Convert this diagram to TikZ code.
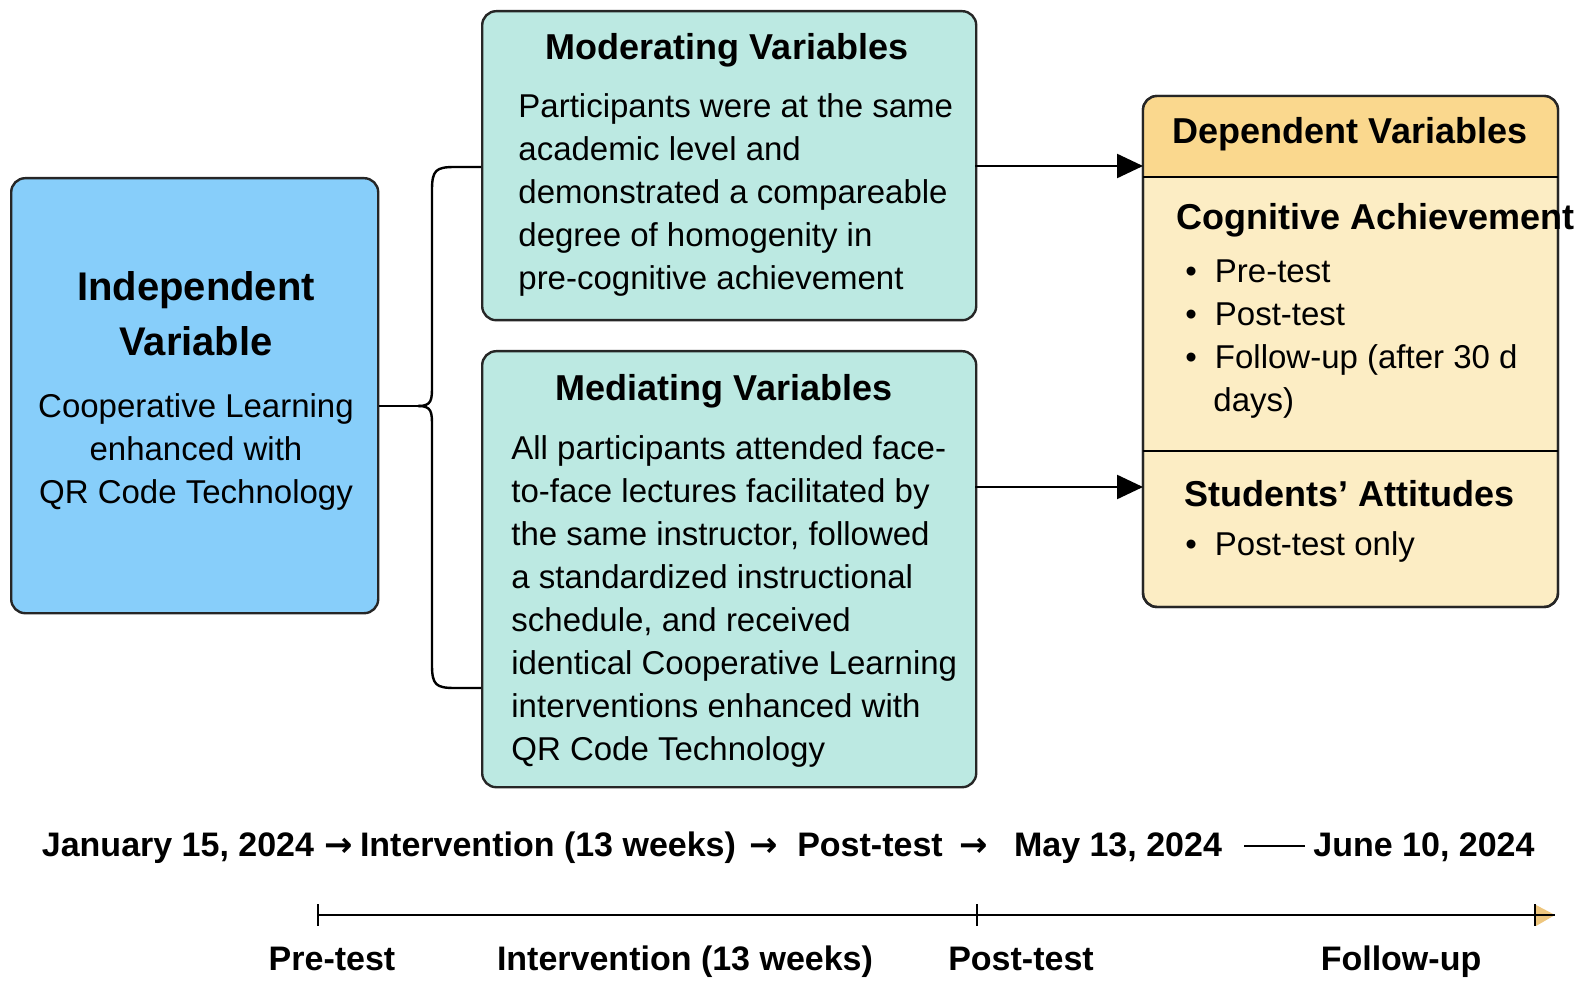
\documentclass[tikz,border=0pt]{standalone}
\usepackage{fontspec}
\setmainfont{Liberation Sans}
\newfontfamily\djv{DejaVu Sans}
\usetikzlibrary{arrows.meta,calc}
\definecolor{ivblue}{HTML}{87CEFA}
\definecolor{tealbg}{HTML}{BCE9E2}
\definecolor{dvhead}{HTML}{FAD88E}
\definecolor{dvbody}{HTML}{FCEDC4}
\tikzset{
 box/.style={draw=black!85,line width=1.2pt,rounded corners=7pt},
 ttl/.style={font=\fontsize{18}{21}\selectfont\bfseries},
 body/.style={font=\fontsize{16.5}{21.5}\selectfont,align=left,anchor=north west,inner sep=0pt},
 tl/.style={font=\fontsize{17}{20}\selectfont\bfseries,anchor=base},
 tarr/.style={font=\djv\fontsize{17}{20}\selectfont\bfseries,anchor=base},
 conn/.style={line width=1.2pt},
}
\begin{document}
\begin{tikzpicture}[x=0.5pt,y=-0.5pt]
\useasboundingbox (0,0) rectangle (1595,1005);
% independent
\node[box,fill=ivblue,minimum width=183.5pt,minimum height=217.5pt,anchor=north west] (iv) at (10,177) {};
\node[font=\fontsize{20}{27.5}\selectfont\bfseries,align=center] (ivt) at (196,314) {Independent\\Variable};
\node[font=\fontsize{16.5}{21.5}\selectfont,align=center] (ivb) at (196,452) {Cooperative Learning\\enhanced with\\QR Code Technology};
% moderating
\node[box,fill=tealbg,minimum width=247pt,minimum height=154.5pt,anchor=north west] (mo) at (481,10) {};
\node[ttl] (mot) at (727,50) {Moderating Variables};
\node[body] (mob) at (518,93) {Participants were at the same\\academic level and\\demonstrated a compareable\\degree of homogenity in\\pre-cognitive achievement};
% mediating
\node[box,fill=tealbg,minimum width=247pt,minimum height=218pt,anchor=north west] (me) at (481,350) {};
\node[ttl] (met) at (724,391) {Mediating Variables};
\node[body] (meb) at (511,435) {All participants attended face-\\to-face lectures facilitated by\\the same instructor, followed\\a standardized instructional\\schedule, and received\\identical Cooperative Learning\\interventions enhanced with\\QR Code Technology};
% dependent
\draw[box,fill=dvbody] (1143,96) rectangle (1558,607);
\path[fill=dvhead,rounded corners=6pt] (1144,177) -- (1144,97) -- (1557,97) [sharp corners] -- (1557,177) -- cycle;
\draw[box,rounded corners=7pt] (1143,96) rectangle (1558,607);
\draw[conn] (1143,177) -- (1558,177);
\draw[conn] (1143,451) -- (1558,451);
\coordinate (dv1) at (1143,166);
\coordinate (dv2) at (1143,487);
\node[ttl] (dvt) at (1350,134) {Dependent Variables};
\node[ttl,anchor=west] (ca) at (1169,220) {Cognitive Achievement};
\node[body,align=left] (cal) at (1185,259) {•\hspace{9pt}Pre-test\\•\hspace{9pt}Post-test\\•\hspace{9pt}Follow-up (after 30 d\\\hspace{14pt}days)};
\node[ttl,anchor=west] (sa) at (1177,494) {Students’ Attitudes};
\node[body] (sal) at (1185,531) {•\hspace{9pt}Post-test only};
% connectors
\draw[conn] (iv.east|-0,406) -- (418,406);
\draw[conn] (418,406) .. controls (432,406) and (432,400) .. (432,385) -- (432,190) .. controls (432,170) and (436,167) .. (455,167) -- (481,167);
\draw[conn] (418,406) .. controls (432,406) and (432,412) .. (432,427) -- (432,665) .. controls (432,685) and (436,688) .. (455,688) -- (481,688);
\draw[conn,-{Triangle[length=13pt,width=12pt]}] (975,166) -- (dv1);
\draw[conn,-{Triangle[length=13pt,width=12pt]}] (975,487) -- (dv2);
% timeline text
\node[tl] (t1) at (178,856) {January 15, 2024};
\node[tarr] (a1) at (339,856) {→};
\node[tl] (t2) at (548,856) {Intervention (13 weeks)};
\node[tarr] (a2) at (764,856) {→};
\node[tl] (t3) at (870,856) {Post-test};
\node[tarr] (a3) at (974,856) {→};
\node[tl] (t4) at (1118,856) {May 13, 2024};
\draw[conn] (1244,846) -- (1305,846);
\node[tl] (t5) at (1424,856) {June 10, 2024};
% axis
\coordinate (p0) at (318,915);
\coordinate (p1) at (977,915);
\coordinate (p2) at (1535,915);
\coordinate (pe) at (1555,915);
\fill[dvhead!80!brown] (1536,905) -- (1555,915) -- (1536,926) -- cycle;
\draw[conn] (p0) -- (pe);
\foreach \p in {p0,p1,p2} \draw[conn] ($(\p)+(0,-11)$) -- ($(\p)+(0,11)$);
\node[tl] (l1) at (332,970) {Pre-test};
\node[tl] (l2) at (685,970) {Intervention (13 weeks)};
\node[tl] (l3) at (1021,970) {Post-test};
\node[tl] (l4) at (1401,970) {Follow-up};
\end{tikzpicture}
\end{document}
